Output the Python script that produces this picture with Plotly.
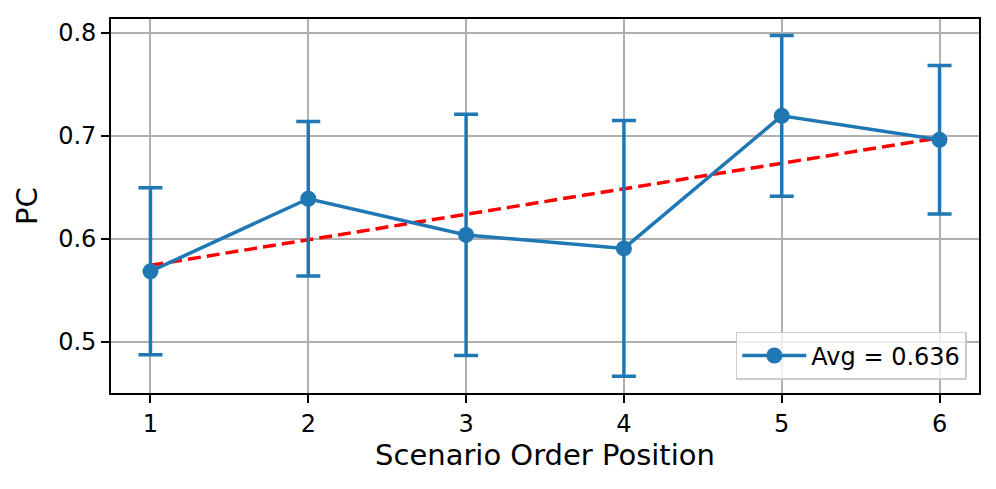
import numpy as np
import plotly.graph_objects as go

# scenario positions and mean PC with error
positions = [1, 2, 3, 4, 5, 6]
pc_mean = [0.5685, 0.6389, 0.6038, 0.5907, 0.7193, 0.6960]
pc_err = [0.081, 0.075, 0.117, 0.124, 0.078, 0.072]

blue = "#1f77b4"
font = "DejaVu Sans"

avg = np.mean(pc_mean)
slope, icpt = np.polyfit(positions, pc_mean, 1)
trend = [slope * x + icpt for x in positions]

fig = go.Figure()

# linear trend
fig.add_trace(go.Scatter(
    x=positions, y=trend, mode="lines",
    line=dict(color="red", width=3.5, dash="13px,6px"),
    showlegend=False, hoverinfo="skip"))

# means with error bars
fig.add_trace(go.Scatter(
    x=positions, y=pc_mean, mode="lines+markers",
    name="Avg = %.3f" % avg,
    line=dict(color=blue, width=3.5),
    marker=dict(color=blue, size=16),
    error_y=dict(type="data", array=pc_err, visible=True,
                 color=blue, thickness=3.5, width=12)))

axis_style = dict(
    showline=True, linecolor="black", linewidth=1.8, mirror=True,
    showgrid=True, gridcolor="#b0b0b0", gridwidth=1.8,
    ticks="outside", ticklen=8, tickwidth=1.8, tickcolor="black",
    tickfont=dict(family=font, size=24, color="black"),
    zeroline=False)

fig.update_xaxes(range=[0.75, 6.25], tickvals=positions,
                 title=dict(text="Scenario Order Position",
                            font=dict(family=font, size=29, color="black"),
                            standoff=8),
                 **axis_style)
fig.update_yaxes(range=[0.4505, 0.8132], tickvals=[0.5, 0.6, 0.7, 0.8],
                 tickformat=".1f",
                 title=dict(text="PC",
                            font=dict(family=font, size=29, color="black"),
                            standoff=12),
                 **axis_style)

# page body has an 8px margin, so shift the plot box up/left by that much
fig.update_layout(
    width=996, height=489,
    margin=dict(l=103, r=25, t=9, b=104),
    plot_bgcolor="white", paper_bgcolor="white",
    font=dict(family=font, color="black"),
    legend=dict(x=0.986, y=0.035, xanchor="right", yanchor="bottom",
                itemwidth=64,
                bgcolor="rgba(255,255,255,0.8)", bordercolor="#cccccc",
                borderwidth=1.5, font=dict(family=font, size=24, color="black")),
)

fig.write_html("out.html")
